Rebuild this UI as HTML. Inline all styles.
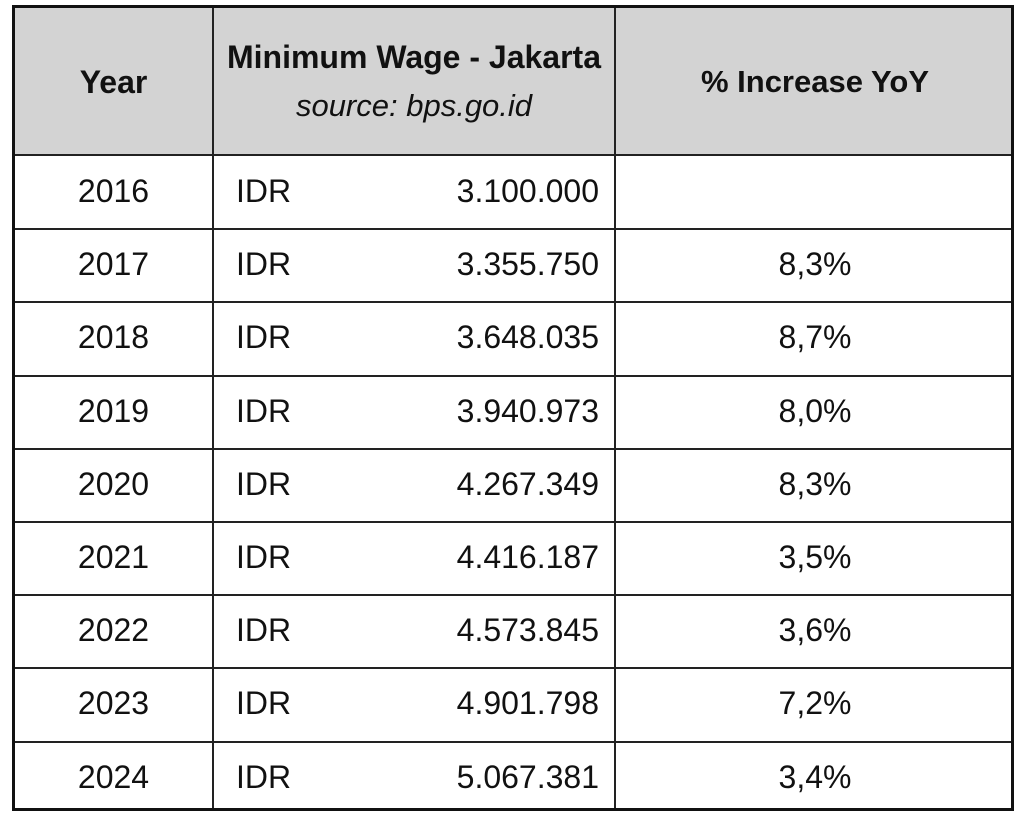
<!DOCTYPE html>
<html><head><style>
body{margin:0;width:1024px;height:826px;background:#fff;font-family:"Liberation Sans",sans-serif;color:#111;position:relative;overflow:hidden}
.t{position:absolute;left:12px;top:5px;width:1002px;height:806px;box-sizing:border-box;border:3px solid #111}
.hd{position:absolute;left:0;top:0;width:100%;height:146px;background:#d3d3d3;border-bottom:2px solid #222}
.v{position:absolute;top:0;bottom:0;width:2px;background:#222}
.h{position:absolute;left:0;right:0;height:2px;background:#222}
.c{position:absolute;font-size:32px;line-height:36px}
.b{font-weight:bold;font-size:32px}
</style></head><body>
<div class="t">
<div class="hd"></div>
<div class="v" style="left:197px"></div>
<div class="v" style="left:599px"></div>
<div class="c b" style="left:0;width:197px;top:56px;text-align:center">Year</div>
<div class="c b" style="left:199px;width:400px;top:31px;text-align:center">Minimum Wage - Jakarta</div>
<div class="c" style="left:199px;width:400px;top:80px;text-align:center;font-style:italic;font-size:31px">source: bps.go.id</div>
<div class="c b" style="left:601px;width:398px;top:56px;text-align:center;font-size:31px">% Increase YoY</div>
<div id="rows"></div>
</div>
<script>
var d=[["2016","3.100.000",""],["2017","3.355.750","8,3%"],["2018","3.648.035","8,7%"],["2019","3.940.973","8,0%"],["2020","4.267.349","8,3%"],["2021","4.416.187","3,5%"],["2022","4.573.845","3,6%"],["2023","4.901.798","7,2%"],["2024","5.067.381","3,4%"]];
var h="";d.forEach(function(r,i){var y=148+i*73.2;
if(i>0)h+='<div class="h" style="top:'+(y-1)+'px"></div>';
h+='<div class="c" style="left:0;width:197px;top:'+(y+17)+'px;text-align:center">'+r[0]+'</div>';
h+='<div class="c" style="left:221px;top:'+(y+17)+'px">IDR</div>';
h+='<div class="c" style="left:300px;width:284px;top:'+(y+17)+'px;text-align:right">'+r[1]+'</div>';
h+='<div class="c" style="left:601px;width:398px;top:'+(y+17)+'px;text-align:center">'+r[2]+'</div>';});
document.getElementById("rows").innerHTML=h;
</script>
</body></html>
